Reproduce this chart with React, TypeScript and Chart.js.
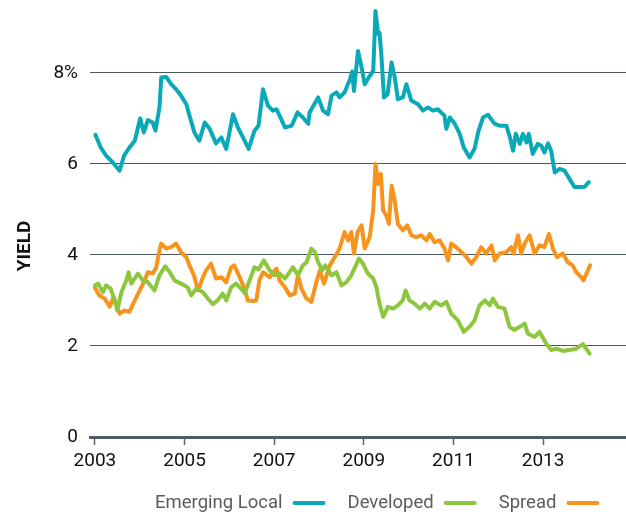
import React, { useEffect, useRef } from "react";
import { Chart, registerables } from "chart.js";
Chart.register(...registerables);

const yearTicks = [2003, 2005, 2007, 2009, 2011, 2013];
const yearLabels = ["2003", "2005", "2007", "2009", "2011", "2013"];
const yTicks = [0, 2, 4, 6, 8];
const yTickLabels = ["0", "2", "4", "6", "8%"];
const yTitle = "YIELD";
const seriesNames = ["Emerging Local", "Developed", "Spread"];
const seriesColors = ["#0aa9b8", "#8dc63f", "#f7941d"];

const emergingDates = [2003.01,2003.13,2003.25,2003.40,2003.55,2003.65,2003.77,2003.89,2003.96,2004.01,2004.09,2004.18,2004.29,2004.35,2004.44,2004.48,2004.59,2004.70,2004.81,2004.92,2005.04,2005.11,2005.22,2005.33,2005.45,2005.56,2005.70,2005.82,2005.93,2006.08,2006.19,2006.34,2006.43,2006.56,2006.65,2006.75,2006.86,2006.97,2007.05,2007.12,2007.24,2007.39,2007.52,2007.64,2007.76,2007.79,2007.98,2008.09,2008.20,2008.28,2008.39,2008.46,2008.57,2008.69,2008.74,2008.78,2008.87,2008.95,2009.02,2009.13,2009.21,2009.26,2009.32,2009.35,2009.39,2009.45,2009.53,2009.62,2009.69,2009.76,2009.87,2009.95,2010.06,2010.21,2010.32,2010.43,2010.54,2010.65,2010.80,2010.84,2010.92,2011.03,2011.14,2011.23,2011.36,2011.47,2011.55,2011.66,2011.77,2011.92,2012.03,2012.18,2012.25,2012.33,2012.39,2012.48,2012.55,2012.63,2012.68,2012.77,2012.88,2012.96,2013.03,2013.11,2013.18,2013.26,2013.37,2013.48,2013.59,2013.70,2013.81,2013.93,2014.02];
const emergingValues = [6.64,6.36,6.18,6.03,5.85,6.18,6.36,6.51,6.80,7.00,6.69,6.96,6.91,6.73,7.24,7.90,7.91,7.75,7.64,7.50,7.31,7.06,6.69,6.51,6.91,6.77,6.45,6.58,6.33,7.09,6.80,6.51,6.33,6.73,6.84,7.64,7.28,7.17,7.20,7.06,6.80,6.84,7.13,7.02,6.88,7.13,7.46,7.17,7.09,7.50,7.57,7.46,7.57,7.86,8.03,7.60,8.48,8.12,7.75,7.93,8.04,9.36,8.85,8.88,8.41,7.46,7.53,8.23,7.90,7.42,7.46,7.75,7.39,7.31,7.17,7.24,7.17,7.20,7.06,6.77,7.02,6.88,6.66,6.36,6.14,6.33,6.69,7.02,7.08,6.88,6.84,6.84,6.62,6.29,6.66,6.44,6.66,6.47,6.66,6.22,6.44,6.40,6.25,6.45,6.29,5.81,5.89,5.85,5.67,5.49,5.49,5.50,5.60];

const developedDates = [2003.00,2003.07,2003.18,2003.25,2003.35,2003.44,2003.50,2003.59,2003.70,2003.75,2003.81,2003.96,2004.07,2004.18,2004.33,2004.44,2004.57,2004.67,2004.78,2004.92,2005.07,2005.15,2005.26,2005.41,2005.52,2005.63,2005.74,2005.85,2005.93,2006.04,2006.15,2006.26,2006.34,2006.45,2006.56,2006.65,2006.77,2006.90,2007.01,2007.12,2007.24,2007.42,2007.53,2007.64,2007.72,2007.83,2007.91,2007.98,2008.07,2008.14,2008.28,2008.39,2008.50,2008.61,2008.72,2008.84,2008.89,2008.98,2009.09,2009.21,2009.28,2009.35,2009.43,2009.54,2009.65,2009.76,2009.87,2009.93,2010.02,2010.13,2010.25,2010.36,2010.47,2010.58,2010.73,2010.84,2010.95,2011.10,2011.23,2011.36,2011.47,2011.58,2011.70,2011.81,2011.88,2011.99,2012.14,2012.25,2012.36,2012.48,2012.59,2012.66,2012.81,2012.92,2013.07,2013.18,2013.29,2013.44,2013.59,2013.74,2013.89,2013.96,2014.04];
const developedValues = [3.33,3.37,3.18,3.33,3.26,3.00,2.78,3.18,3.44,3.62,3.37,3.59,3.44,3.40,3.22,3.55,3.75,3.62,3.44,3.37,3.29,3.11,3.26,3.18,3.04,2.92,3.00,3.15,3.00,3.29,3.37,3.26,3.16,3.44,3.73,3.68,3.88,3.66,3.55,3.59,3.48,3.73,3.55,3.77,3.84,4.14,4.06,3.84,3.66,3.77,3.55,3.62,3.33,3.40,3.55,3.81,3.92,3.81,3.59,3.48,3.29,2.93,2.64,2.86,2.82,2.89,3.00,3.22,3.00,2.93,2.82,2.93,2.82,2.97,2.89,2.97,2.71,2.56,2.31,2.42,2.56,2.89,3.00,2.89,3.04,2.86,2.82,2.42,2.35,2.42,2.49,2.27,2.20,2.31,2.05,1.91,1.94,1.89,1.91,1.94,2.04,1.94,1.83];

const spreadDates = [2003.00,2003.10,2003.22,2003.33,2003.42,2003.55,2003.66,2003.77,2003.89,2004.00,2004.11,2004.18,2004.29,2004.37,2004.44,2004.48,2004.59,2004.70,2004.81,2004.92,2005.04,2005.11,2005.21,2005.30,2005.41,2005.48,2005.59,2005.70,2005.82,2005.93,2006.04,2006.11,2006.23,2006.34,2006.41,2006.52,2006.60,2006.67,2006.75,2006.90,2007.05,2007.12,2007.24,2007.35,2007.46,2007.53,2007.61,2007.72,2007.83,2007.94,2008.02,2008.11,2008.24,2008.35,2008.46,2008.57,2008.65,2008.72,2008.78,2008.86,2008.95,2009.02,2009.13,2009.21,2009.26,2009.32,2009.38,2009.43,2009.50,2009.56,2009.62,2009.69,2009.76,2009.87,2009.97,2010.06,2010.17,2010.28,2010.40,2010.47,2010.58,2010.69,2010.80,2010.88,2010.95,2011.06,2011.18,2011.29,2011.40,2011.51,2011.62,2011.73,2011.85,2011.92,2012.03,2012.18,2012.29,2012.34,2012.44,2012.51,2012.59,2012.70,2012.81,2012.92,2013.03,2013.13,2013.22,2013.31,2013.44,2013.55,2013.66,2013.74,2013.85,2013.90,2013.98,2014.05];
const spreadValues = [3.28,3.11,3.04,2.86,3.08,2.71,2.78,2.75,3.00,3.22,3.44,3.62,3.59,3.73,4.10,4.25,4.14,4.17,4.25,4.06,3.95,3.77,3.55,3.22,3.51,3.66,3.81,3.48,3.51,3.40,3.73,3.77,3.51,3.26,3.00,2.99,3.00,3.44,3.62,3.51,3.70,3.44,3.29,3.11,3.15,3.55,3.26,3.04,2.97,3.40,3.66,3.37,3.77,3.95,4.14,4.50,4.32,4.50,4.03,4.50,4.65,4.14,4.39,4.98,6.00,5.56,5.78,4.98,4.87,4.68,5.52,5.19,4.68,4.54,4.65,4.43,4.39,4.43,4.32,4.46,4.28,4.32,4.14,3.88,4.25,4.17,4.06,3.95,3.81,3.95,4.17,4.03,4.21,3.88,4.03,4.06,4.17,4.03,4.43,4.03,4.25,4.43,4.03,4.21,4.17,4.46,4.14,3.95,4.03,3.84,3.77,3.62,3.51,3.44,3.62,3.77];

const seriesDates = [emergingDates, developedDates, spreadDates];
const seriesValues = [emergingValues, developedValues, spreadValues];

const FONT = "Roboto, 'Liberation Sans', sans-serif";

const extrasPlugin = {
  id: "extras",
  afterDraw(chart: any) {
    const ctx = chart.ctx as CanvasRenderingContext2D;
    const area = chart.chartArea;
    ctx.save();
    ctx.translate(25, area.top + area.height * 0.563);
    ctx.rotate(-Math.PI / 2);
    ctx.font = `bold 19px ${FONT}`;
    ctx.fillStyle = "#111";
    ctx.textAlign = "center";
    ctx.textBaseline = "middle";
    ctx.fillText(yTitle, 0, 0);
    ctx.restore();

    ctx.save();
    ctx.font = `18.5px ${FONT}`;
    ctx.textBaseline = "middle";
    ctx.textAlign = "left";
    let x = 155;
    const y = 503;
    chart.data.datasets.forEach((ds: any) => {
      ctx.fillStyle = "#5a5b5d";
      ctx.fillText(ds.label, x, y);
      x += ctx.measureText(ds.label).width + 12;
      ctx.strokeStyle = ds.borderColor;
      ctx.lineWidth = 4;
      ctx.lineCap = "round";
      ctx.beginPath();
      ctx.moveTo(x, y);
      ctx.lineTo(x + 29, y);
      ctx.stroke();
      x += 29 + 24;
    });
    ctx.restore();
  },
};

export default function App() {
  const ref = useRef<HTMLCanvasElement | null>(null);
  useEffect(() => {
    if (!ref.current) return;
    const chart = new Chart(ref.current, {
      type: "line",
      data: {
        datasets: seriesNames.map((name, i) => ({
          label: name,
          data: seriesDates[i].map((d, j) => ({ x: d, y: seriesValues[i][j] })),
          borderColor: seriesColors[i],
          backgroundColor: seriesColors[i],
          borderWidth: 4,
          pointRadius: 0,
          tension: 0,
          borderJoinStyle: "round" as const,
          borderCapStyle: "round" as const,
        })),
      },
      options: {
        responsive: false,
        animation: false,
        devicePixelRatio: 1,
        layout: { padding: 0 },
        plugins: { legend: { display: false }, tooltip: { enabled: false } },
        scales: {
          x: {
            type: "linear",
            min: 2002.89,
            max: 2014.85,
            afterBuildTicks: (s: any) => {
              s.ticks = yearTicks.map((v) => ({ value: v }));
            },
            afterFit: (s: any) => {
              s.height = 77;
              s.paddingLeft = 0;
              s.paddingRight = 0;
            },
            ticks: {
              autoSkip: false,
              maxRotation: 0,
              padding: 5,
              color: "#111",
              font: { family: FONT, size: 19 },
              callback: (_v: any, i: number) => yearLabels[i],
            },
            grid: {
              drawOnChartArea: false,
              drawTicks: true,
              tickLength: 8,
              tickColor: "#5a6770",
              tickWidth: 1.5,
            },
            border: { display: true, color: "#4f5d67", width: 3 },
          },
          y: {
            min: 0,
            max: 9.6,
            afterBuildTicks: (s: any) => {
              s.ticks = yTicks.map((v) => ({ value: v }));
            },
            afterFit: (s: any) => {
              s.width = 90;
              s.paddingTop = 0;
              s.paddingBottom = 0;
            },
            ticks: {
              padding: 12,
              color: "#111",
              font: { family: FONT, size: 19 },
              callback: (_v: any, i: number) => yTickLabels[i],
            },
            grid: { color: "#4a5864", lineWidth: 1, drawTicks: false },
            border: { display: false },
          },
        },
      },
      plugins: [extrasPlugin],
    });
    return () => chart.destroy();
  }, []);
  return (
    <div style={{ position: "fixed", left: 0, top: 0, width: 626, height: 514, background: "#fff" }}>
      <canvas ref={ref} width={626} height={514} style={{ display: "block" }} />
    </div>
  );
}
